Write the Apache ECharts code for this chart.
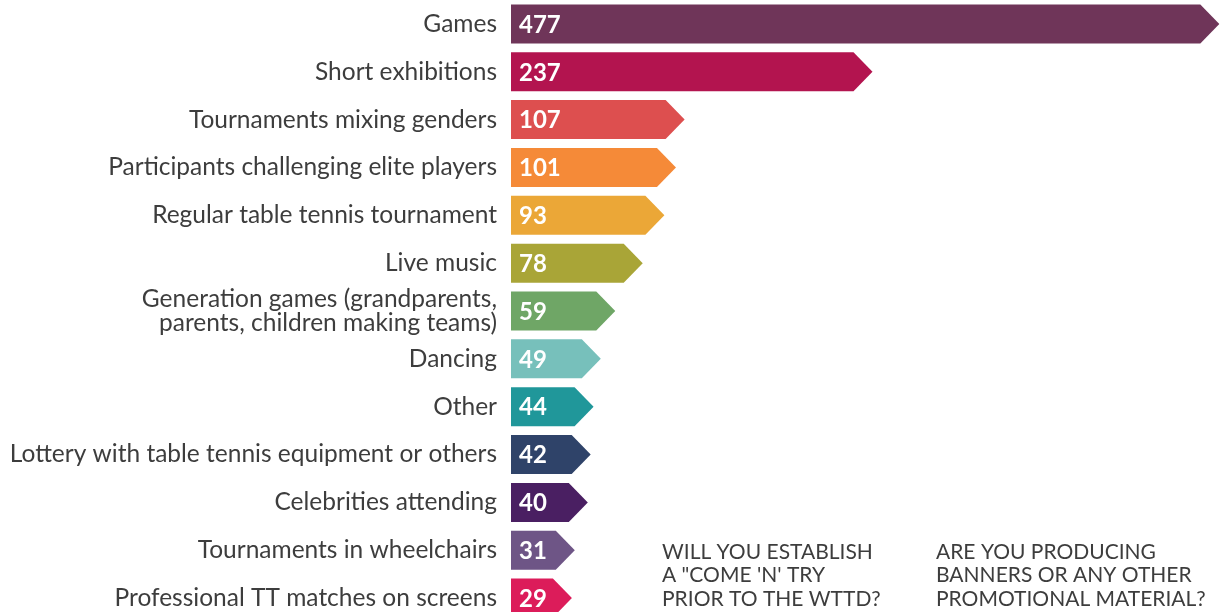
<!DOCTYPE html>
<html>
<head>
<meta charset="utf-8">
<script src="https://cdn.jsdelivr.net/npm/echarts@6/dist/echarts.min.js"></script>
<style>
html,body{margin:0;padding:0;background:#fff;}
#c{width:1222px;height:612px;}
</style>
</head>
<body>
<div id="c"></div>
<script>
const categories = [
  "Games",
  "Short exhibitions",
  "Tournaments mixing genders",
  "Participants challenging elite players",
  "Regular table tennis tournament",
  "Live music",
  "Generation games (grandparents,\nparents, children making teams)",
  "Dancing",
  "Other",
  "Lottery with table tennis equipment or others",
  "Celebrities attending",
  "Tournaments in wheelchairs",
  "Professional TT matches on screens"
];
const values = [477, 237, 107, 101, 93, 78, 59, 49, 44, 42, 40, 31, 29];
const colors = ["#6f3559", "#b3144f", "#dd4f4f", "#f58a38", "#eba737", "#a9a537", "#6fa666", "#77c0bb", "#20979a", "#2f4369", "#4a1f62", "#6e5586", "#dc1c5a"];
const questions = [
  "WILL YOU ESTABLISH\nA \"COME 'N' TRY\nPRIOR TO THE WTTD?",
  "ARE YOU PRODUCING\nBANNERS OR ANY OTHER\nPROMOTIONAL MATERIAL?"
];

const chart = echarts.init(document.getElementById('c'));
const font = 'Lato, "Noto Sans", sans-serif';

chart.setOption({
  animation: false,
  grid: { left: 511, top: 0, height: 622, right: 0, containLabel: false, outerBoundsMode: 'none' },
  xAxis: { type: 'value', min: 0, max: 492, show: false },
  yAxis: {
    type: 'category', data: categories, inverse: true,
    axisLine: { show: false }, axisTick: { show: false }, splitLine: { show: false },
    axisLabel: { fontFamily: font, fontSize: 24.5, color: '#3d3d3d', margin: 14, lineHeight: 23.5, align: 'right' }
  },
  series: [{
    type: 'custom',
    data: values.map((v, i) => [v, i]),
    encode: { x: 0, y: 1 },
    clip: false,
    renderItem: function (params, api) {
      const v = api.value(0), idx = api.value(1);
      const p0 = api.coord([0, idx]);
      const p1 = api.coord([v, idx]);
      const h = 39, tip = 19;
      const y = p0[1];
      return {
        type: 'group',
        children: [{
          type: 'polygon',
          shape: { points: [[p0[0], y - h / 2], [p1[0], y - h / 2], [p1[0] + tip, y], [p1[0], y + h / 2], [p0[0], y + h / 2]] },
          style: { fill: colors[idx] }
        }, {
          type: 'text',
          style: { text: String(v), x: p0[0] + 8, y: y + 1, fill: '#fff', font: 'bold 24px ' + font, verticalAlign: 'middle', align: 'left' }
        }]
      };
    }
  }],
  graphic: [
    { type: 'text', left: 662, top: 540, style: { text: questions[0], font: '21px ' + font, fill: '#3d3d3d', lineHeight: 23.5 } },
    { type: 'text', left: 936, top: 540, style: { text: questions[1], font: '21px ' + font, fill: '#3d3d3d', lineHeight: 23.5 } }
  ]
});
</script>
</body>
</html>
